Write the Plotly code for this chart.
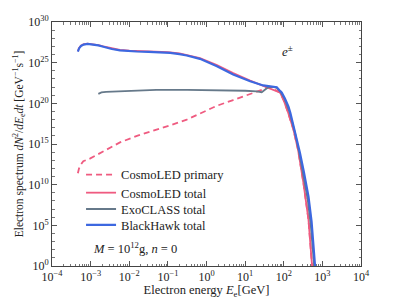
import numpy as np
import plotly.graph_objects as go

# Readings (log10 of energy in GeV, log10 of spectrum in GeV^-1 s^-1)
blackhawk_logE = [-3.33, -3.30, -3.25, -3.18, -3.08, -2.95, -2.80, -2.67, -2.45, -2.24, -2.00, -1.81, -1.50, -1.20,
                  -0.94, -0.70, -0.51, -0.17, 0.27, 0.69, 1.13, 1.47, 1.65, 1.74, 1.82, 1.91, 1.95, 2.03, 2.12, 2.17,
                  2.30, 2.42, 2.52, 2.64, 2.72, 2.81, 2.86]
blackhawk_logN = [26.35, 26.75, 27.05, 27.22, 27.30, 27.25, 27.12, 26.95, 26.68, 26.52, 26.42, 26.37, 26.33, 26.30,
                  26.20, 26.05, 25.88, 25.47, 24.56, 23.54, 22.72, 22.20, 22.10, 22.10, 21.98, 21.50, 21.30, 20.60,
                  19.64, 18.83, 16.40, 13.90, 11.60, 8.57, 5.50, 0.38, -3.0]

cosmoled_total_logE = [-3.33, -3.30, -3.25, -3.18, -3.08, -2.95, -2.80, -2.67, -2.45, -2.24, -2.00, -1.50, -1.00,
                       -0.70, -0.40, -0.17, 0.27, 0.69, 1.13, 1.40, 1.60, 1.80, 1.91, 1.99, 2.11, 2.25, 2.37, 2.51,
                       2.64, 2.73, 2.78]
cosmoled_total_logN = [26.40, 26.80, 27.10, 27.28, 27.35, 27.30, 27.17, 27.00, 26.74, 26.58, 26.47, 26.40, 26.30,
                       26.15, 25.85, 25.55, 24.70, 23.72, 22.80, 22.30, 21.90, 21.60, 21.30, 20.47, 18.90, 16.78,
                       14.30, 10.20, 5.70, 0.20, -3.0]

cosmoled_primary_logE = [-3.33, -3.30, -3.25, -3.19, -3.02, -2.70, -2.24, -1.80, -1.38, -0.94, -0.51, -0.10, 0.27,
                         0.69, 1.13, 1.43, 1.56, 1.65, 1.80, 1.91, 1.99, 2.11, 2.25, 2.37, 2.51, 2.64, 2.73, 2.78]
cosmoled_primary_logN = [11.40, 12.00, 12.50, 12.88, 13.20, 14.00, 15.20, 16.00, 16.60, 17.30, 18.00, 18.90, 19.70,
                         20.40, 21.10, 21.65, 21.95, 21.90, 21.60, 21.30, 20.47, 18.90, 16.78, 14.30, 10.20, 5.70,
                         0.20, -3.0]

exoclass_logE = [-2.80, -2.72, -2.60, -2.24, -1.81, -1.30, -0.50, 0.30, 1.00, 1.30, 1.43, 1.52, 1.60, 1.73, 1.82,
                 1.93, 2.02, 2.15, 2.30, 2.40, 2.50, 2.62, 2.70, 2.79, 2.84]
exoclass_logN = [21.17, 21.35, 21.42, 21.50, 21.60, 21.65, 21.65, 21.62, 21.55, 21.48, 21.37, 21.70, 21.98, 22.02,
                 21.90, 21.30, 20.55, 18.90, 16.20, 13.90, 11.20, 8.20, 5.00, 0.00, -3.0]

x_tick_exponents = [-4, -3, -2, -1, 0, 1, 2, 3, 4]
y_tick_exponents = [0, 5, 10, 15, 20, 25, 30]

PINK = "#EF5B80"
GREY = "#66798A"
BLUE = "#3D68E0"
FONT = "Liberation Serif"


def lin(v):
    return np.power(10.0, np.array(v, dtype=float))


def power_labels(exps):
    return ["10<sup>%s</sup>" % (str(e).replace("-", "−")) for e in exps]


fig = go.Figure()
fig.add_trace(go.Scatter(x=lin(cosmoled_primary_logE), y=lin(cosmoled_primary_logN), mode="lines",
                         name="CosmoLED primary", legend="legend",
                         line=dict(color=PINK, width=1.8, dash="6px,4px")))
fig.add_trace(go.Scatter(x=lin(cosmoled_total_logE), y=lin(cosmoled_total_logN), mode="lines",
                         name="CosmoLED total", legend="legend2", line=dict(color=PINK, width=1.8)))
fig.add_trace(go.Scatter(x=lin(exoclass_logE), y=lin(exoclass_logN), mode="lines",
                         name="ExoCLASS total", legend="legend3", line=dict(color=GREY, width=1.8)))
fig.add_trace(go.Scatter(x=lin(blackhawk_logE), y=lin(blackhawk_logN), mode="lines",
                         name="BlackHawk total", legend="legend4", line=dict(color=BLUE, width=2.2)))

axis_common = dict(
    type="log", showgrid=False, zeroline=False, showline=True, linecolor="#444", linewidth=1,
    mirror="allticks", ticks="inside", ticklen=5, tickcolor="#555", tickwidth=1, automargin=False,
    tickfont=dict(family=FONT, size=12, color="#222"),
)

fig.update_xaxes(range=[-4, 4], tickmode="array", tickvals=lin(x_tick_exponents).tolist(),
                 ticktext=power_labels(x_tick_exponents),
                 minor=dict(ticks="inside", ticklen=2.5, dtick="D1", tickcolor="#777", showgrid=False),
                 title=dict(text="Electron energy <i>E</i><sub>e</sub>[GeV]", font=dict(family=FONT, size=12.5, color="#222"),
                            standoff=6),
                 **axis_common)
fig.update_yaxes(range=[0, 30], tickmode="array", tickvals=lin(y_tick_exponents).tolist(),
                 ticktext=power_labels(y_tick_exponents),
                 minor=dict(ticks="inside", ticklen=2.5, dtick=1, tickcolor="#777", showgrid=False),
                 title=dict(text="Electron spectrum <i>dN</i><sup>2</sup>/<i>dE</i><sub>e</sub><i>dt</i> [GeV<sup>−1</sup>s<sup>−1</sup>]",
                            font=dict(family=FONT, size=11.5, color="#222"), standoff=2),
                 **axis_common)

fig.add_annotation(x=2.09, y=26.4, xref="x", yref="y", text="<i>e</i><sup>±</sup>", showarrow=False,
                   font=dict(family=FONT, size=13, color="#222"))
fig.add_annotation(x=0.269, y=0.074, xref="paper", yref="paper", xanchor="center", yanchor="middle",
                   text="<i>M</i> = 10<sup>12</sup>g, <i>n</i> = 0", showarrow=False,
                   font=dict(family=FONT, size=12.5, color="#222"))

legend_style = dict(x=0.094, xanchor="left", yanchor="middle", bgcolor="rgba(0,0,0,0)",
                    font=dict(family=FONT, size=12.5, color="#222"), itemwidth=30)

fig.update_layout(
    width=391, height=291,
    margin=dict(l=44, r=38, t=14, b=33),
    paper_bgcolor="white", plot_bgcolor="white",
    showlegend=True,
    legend=dict(y=0.373, **legend_style),
    legend2=dict(y=0.299, **legend_style),
    legend3=dict(y=0.232, **legend_style),
    legend4=dict(y=0.167, **legend_style),
)

fig.write_html("out.html")
